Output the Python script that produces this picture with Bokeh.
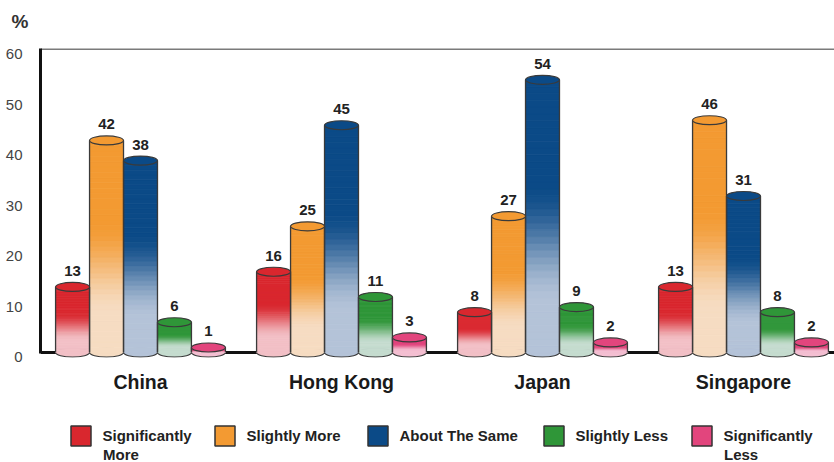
from bokeh.plotting import figure
from bokeh.layouts import column
from bokeh.models import (Range1d, FixedTicker, Span, Legend, LegendItem, Title,
                          ColumnDataSource, Label, LinearAxis)
from bokeh.core.properties import value
from bokeh.embed import file_html
from bokeh.resources import INLINE

# ---- data -------------------------------------------------------------
markets = ["China", "Hong Kong", "Japan", "Singapore"]
series = ["Significantly More", "Slightly More", "About The Same",
          "Slightly Less", "Significantly Less"]
significantly_more = [13, 16, 8, 13]
slightly_more = [42, 25, 27, 46]
about_the_same = [38, 45, 54, 31]
slightly_less = [6, 11, 9, 8]
significantly_less = [1, 3, 2, 2]
y_ticks = [0, 10, 20, 30, 40, 50, 60]

values = [significantly_more, slightly_more, about_the_same,
          slightly_less, significantly_less]

# ---- styling ----------------------------------------------------------
FONT = "Liberation Sans"
full_colors = ["#d9272e", "#f39a32", "#0b4a87", "#2f9638", "#e2457d"]
pale_colors = ["#f2c0c6", "#f6dcc2", "#b4c3d8", "#c5dccf", "#f4bfd2"]
OUTLINE = "#3a3a3a"
BAR_W = 0.169          # width of one cylinder in group units
SLICES = 40            # vertical steps used for the shaded body
Y0, Y1 = -0.98, 60.2   # value range of the plot frame
LABEL_SHIFT = 0.9      # tick labels sit a little below their gridline value


def hex_to_rgb(h):
    h = h.lstrip("#")
    return tuple(int(h[i:i + 2], 16) for i in (0, 2, 4))


def blend(c_low, c_high, t):
    a, b = hex_to_rgb(c_low), hex_to_rgb(c_high)
    return "#%02x%02x%02x" % tuple(round(x + (y - x) * t) for x, y in zip(a, b))


def shade(frac):
    """0 at the foot of a cylinder, 1 at its top."""
    lo, hi = 0.18, 0.62
    if frac <= lo:
        return 0.0
    if frac >= hi:
        return 1.0
    t = (frac - lo) / (hi - lo)
    return t * t * (3 - 2 * t)


# ---- heading strip with the unit ------------------------------------------
head = figure(width=834, height=38, output_backend="svg", toolbar_location=None,
              x_axis_location=None, y_axis_location=None,
              min_border_left=0, min_border_right=0, min_border_top=31,
              min_border_bottom=0)
head.outline_line_color = None
head.grid.visible = False
head.add_layout(Title(text="%", align="left", offset=-29, standoff=0,
                      text_font=FONT, text_font_size="19px",
                      text_font_style="bold", text_color="#333333"), "above")

# ---- main chart ---------------------------------------------------------
p = figure(width=834, height=357, output_backend="svg", toolbar_location=None,
           x_range=Range1d(-0.4975, 3.4527), y_range=Range1d(Y0, Y1),
           min_border_left=40, min_border_right=0, min_border_top=10,
           min_border_bottom=34, y_axis_location=None)
p.extra_y_ranges = {"ticks": Range1d(Y0 + LABEL_SHIFT, Y1 + LABEL_SHIFT)}
p.outline_line_color = None
p.background_fill_color = "white"
p.border_fill_color = "white"
p.grid.visible = False

# frame lines: grey top rule and black baseline
p.add_layout(Span(location=60.1, dimension="width", line_color="#7a7a7a",
                  line_width=2, level="underlay"))
p.add_layout(Span(location=0, dimension="width", line_color="#111111",
                  line_width=3, level="underlay"))

# ---- cylinders --------------------------------------------------------
xs, tops, fulls, pales = [], [], [], []
sl_x, sl_b, sl_t, sl_c = [], [], [], []
for s, vals in enumerate(values):
    for g, v in enumerate(vals):
        x = g + (s - 2) * BAR_W
        xs.append(x)
        tops.append(v)
        fulls.append(full_colors[s])
        pales.append(pale_colors[s])
        for k in range(SLICES):
            sl_x.append(x)
            sl_b.append(v * k / SLICES)
            sl_t.append(v * (k + 1) / SLICES)
            sl_c.append(blend(pale_colors[s], full_colors[s],
                              shade((k + 0.5) / SLICES)))

bars = ColumnDataSource(dict(x=xs, top=tops, full=fulls, pale=pales,
                             zero=[0] * len(xs),
                             left=[x - BAR_W / 2 for x in xs],
                             right=[x + BAR_W / 2 for x in xs],
                             label=[str(v) for v in tops]))

# foot of each cylinder
p.ellipse(x="x", y="zero", width=BAR_W, height=9, height_units="screen",
          source=bars, fill_color="pale", line_color=OUTLINE, line_width=1.2)
# shaded body
p.vbar(x=sl_x, bottom=sl_b, top=sl_t, width=BAR_W, fill_color=sl_c,
       line_color=sl_c, line_width=0.8)
# side edges
p.segment(x0="left", y0="zero", x1="left", y1="top", source=bars,
          line_color=OUTLINE, line_width=1.3)
p.segment(x0="right", y0="zero", x1="right", y1="top", source=bars,
          line_color=OUTLINE, line_width=1.3)
# lid
p.ellipse(x="x", y="top", width=BAR_W, height=9, height_units="screen",
          source=bars, fill_color="full", line_color=OUTLINE, line_width=1.2)
# value labels
p.text(x="x", y="top", text="label", source=bars, y_offset=-16,
       text_align="center", text_baseline="middle",
       text_font=value(FONT), text_font_style="bold",
       text_font_size="15px", text_color="#222222")

# ---- axes -------------------------------------------------------------
yaxis = LinearAxis(y_range_name="ticks", ticker=FixedTicker(ticks=y_ticks),
                   bounds=(LABEL_SHIFT - 0.2, Y1 + LABEL_SHIFT),
                   axis_line_color="#111111", axis_line_width=3,
                   major_tick_line_color=None, minor_tick_line_color=None,
                   major_label_standoff=12, major_label_text_font=FONT,
                   major_label_text_font_size="15px",
                   major_label_text_color="#444444")
p.add_layout(yaxis, "left")

p.xaxis.ticker = FixedTicker(ticks=list(range(len(markets))))
p.xaxis.major_label_overrides = {i: m for i, m in enumerate(markets)}
p.xaxis.axis_line_color = None
p.xaxis.major_tick_line_color = None
p.xaxis.minor_tick_line_color = None
p.xaxis.major_label_standoff = 7
p.xaxis.major_label_text_font = FONT
p.xaxis.major_label_text_font_style = "bold"
p.xaxis.major_label_text_font_size = "19.5px"
p.xaxis.major_label_text_color = "#1a1a1a"

# ---- legend strip -----------------------------------------------------
lf = figure(width=834, height=67, output_backend="svg", toolbar_location=None,
            x_range=Range1d(0, 794), y_range=Range1d(0, 67),
            x_axis_location=None, y_axis_location=None,
            min_border_left=0, min_border_right=0, min_border_top=0,
            min_border_bottom=0)
lf.outline_line_color = None
lf.grid.visible = False

legend_x = [27.5, 171.5, 324.5, 500.5, 648.5]
for s, name in enumerate(series):
    first, _, rest = name.partition(" ") if s in (0, 4) else (name, "", "")
    proxy = lf.vbar(x=[float("nan")], top=[float("nan")], width=1,
                    fill_color=full_colors[s], line_color="#333333",
                    line_width=1.5)
    lg = Legend(items=[LegendItem(label=first, renderers=[proxy])],
                location=(legend_x[s], 14.5), orientation="horizontal",
                glyph_width=25, glyph_height=25, label_standoff=10,
                padding=0, margin=0, spacing=0,
                border_line_color=None, background_fill_alpha=0,
                label_text_font=FONT, label_text_font_style="bold",
                label_text_font_size="15px", label_text_color="#222222")
    lf.add_layout(lg, "center")
    if rest:
        # wrapped second line of the two long legend entries
        lf.add_layout(Label(x=legend_x[s] + 35, y=8, x_units="screen",
                            y_units="screen", text=rest, text_font=FONT,
                            text_font_style="bold", text_font_size="15px",
                            text_color="#222222", text_baseline="middle"))

open("out.html", "w").write(file_html(column(head, p, lf, spacing=0), INLINE))
